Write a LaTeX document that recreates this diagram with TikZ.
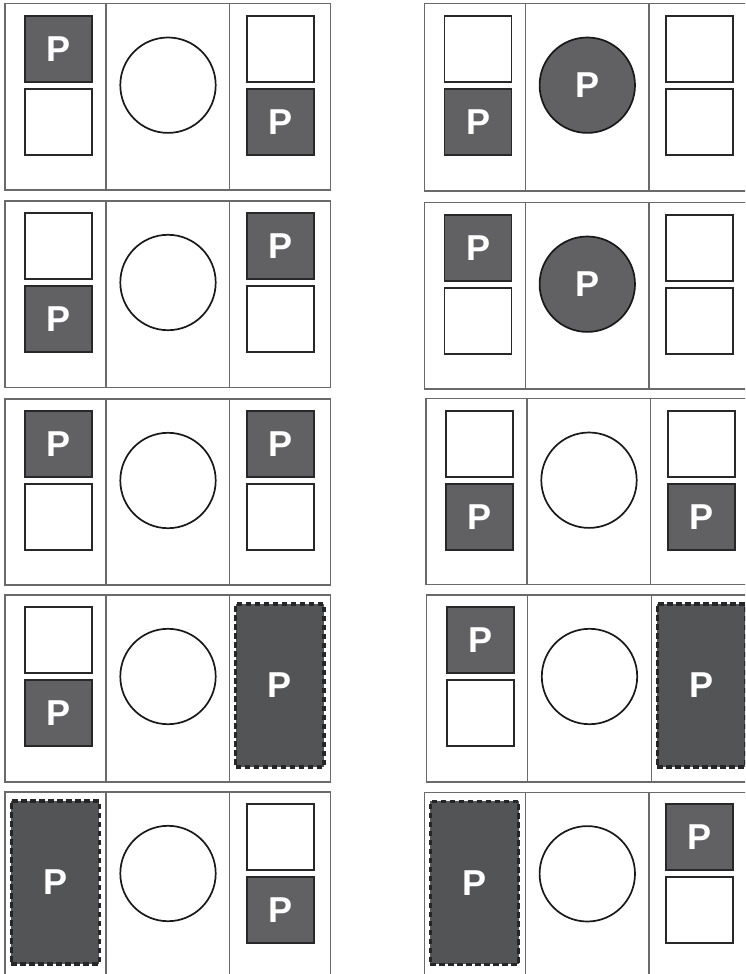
\documentclass[tikz,border=0pt]{standalone}
\usepackage{fontspec}
\setmainfont{Liberation Sans}
\definecolor{fillP}{HTML}{616163}
\definecolor{fillD}{HTML}{535456}
\definecolor{frame}{HTML}{6A6A6A}
\definecolor{edge}{HTML}{282828}
\tikzset{
  pfont/.style={text=white, font=\bfseries\fontsize{36}{36}\selectfont},
  sqbase/.style={rectangle, minimum width=67pt, minimum height=66pt, inner sep=0pt, draw=edge, line width=1.7pt},
  psq/.style={sqbase, fill=fillP, pfont},
  wsq/.style={sqbase, fill=white},
  circbase/.style={circle, minimum size=95.4pt, inner sep=0pt, draw=black!90, line width=1.7pt},
  pcirc/.style={circbase, fill=fillP, pfont},
  wcirc/.style={circbase, fill=white},
  dashrect/.style={rectangle, minimum width=88.3pt, minimum height=163pt, inner sep=0pt, draw=black!85, line width=3.2pt, dash pattern=on 5.5pt off 3.5pt, fill=fillD, pfont},
  frameline/.style={draw=frame, line width=1.1pt},
}
% content of a square column: #1 name, #2 centre x, #3 panel top, #4 dashed offset
\newcommand\contPW[4]{\node[psq] (#1a) at (#2,#3+45) {P}; \node[wsq] (#1b) at (#2,#3+118) {};}
\newcommand\contWP[4]{\node[wsq] (#1a) at (#2,#3+45) {}; \node[psq] (#1b) at (#2,#3+118) {P};}
\newcommand\contWW[4]{\node[wsq] (#1a) at (#2,#3+45) {}; \node[wsq] (#1b) at (#2,#3+118) {};}
\newcommand\contD[4]{\node[dashrect] (#1a) at (#2+#4,#3+90.5) {P};}
\newcommand\circW[3]{\node[wcirc] (#1) at (#2+163,#3+81.5) {};}
\newcommand\circP[3]{\node[pcirc] (#1) at (#2+163,#3+81.5) {P};}
% #1 name, #2 X, #3 top, #4 bottom, #5 right edge, #6 left col, #7 circle, #8 right col
\newcommand\dopanel[8]{%
  \draw[frameline] (#2,#3) rectangle (#5,#4);
  \draw[frameline] (#2+101,#3) -- (#2+101,#4);
  \draw[frameline] (#2+224.7,#3) -- (#2+224.7,#4);
  \csname cont#6\endcsname{#1L}{#2+53.75}{#3}{-3.5}
  \csname circ#7\endcsname{#1C}{#2}{#3}
  \csname cont#8\endcsname{#1R}{#2+275.2}{#3}{-0.35}
}
\begin{document}
\begin{tikzpicture}[x=1pt,y=-1pt]
  \useasboundingbox (0,0) rectangle (745,974);
  \clip (0,0) rectangle (745,974);
  \fill[white] (0,0) rectangle (745,974);
  \dopanel{la}{5}{3.7}{190}{330.5}{PW}{W}{WP}
  \dopanel{ra}{424.3}{3.7}{191}{760}{WP}{P}{WW}
  \dopanel{lb}{5}{201}{387.5}{330.5}{WP}{W}{PW}
  \dopanel{rb}{424.3}{202.7}{389}{760}{PW}{P}{WW}
  \dopanel{lc}{5}{399}{585}{330.5}{PW}{W}{PW}
  \dopanel{rc}{426}{398.7}{584.7}{760}{WP}{W}{WP}
  \dopanel{ld}{5}{595}{782}{330.5}{WP}{W}{D}
  \dopanel{rd}{426.5}{595}{782}{760}{PW}{W}{D}
  \dopanel{le}{5}{792}{990}{330.5}{D}{W}{WP}
  \dopanel{re}{424.3}{792.3}{990}{760}{D}{W}{PW}
\end{tikzpicture}
\end{document}
